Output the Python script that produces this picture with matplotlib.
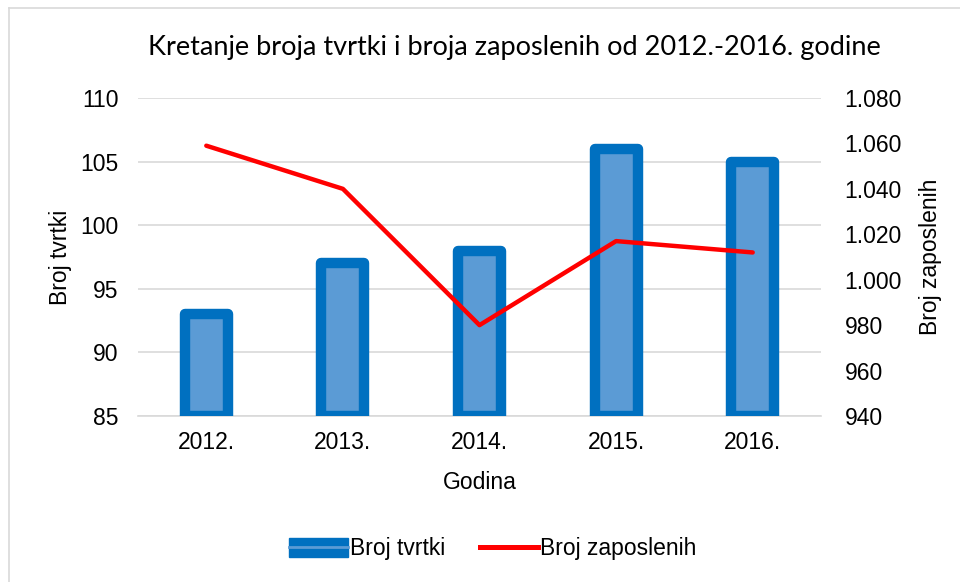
import matplotlib
matplotlib.use("Agg")
import matplotlib.pyplot as plt
from matplotlib.patches import Patch
from matplotlib.lines import Line2D
from matplotlib.ticker import FuncFormatter

years = ["2012.", "2013.", "2014.", "2015.", "2016."]
broj_tvrtki = [93, 97, 98, 106, 105]
broj_zaposlenih = [1059, 1040, 980, 1017, 1012]

plt.rcParams['font.family'] = ['Liberation Sans', 'DejaVu Sans']
FS = 16.5

W, H = 960, 582
fig = plt.figure(figsize=(W/100, H/100), dpi=100)
ax = fig.add_axes([138/W, 1-416/H, (821-138)/W, (416-98)/H])

x = list(range(len(years)))
ax.bar(x, [v - 85 for v in broj_tvrtki], bottom=85, width=0.315,
       color='#5B9BD5', edgecolor='#0070C0', linewidth=7.5, joinstyle='round', zorder=3)
ax.set_xlim(-0.5, 4.5)
ax.set_ylim(85, 110)
ax.set_yticks([85, 90, 95, 100, 105, 110])
ax.grid(axis='y', color='#D9D9D9', linewidth=1.2, zorder=0)
for s in ['top', 'right', 'left']:
    ax.spines[s].set_visible(False)
ax.spines['bottom'].set_color('#D9D9D9')
ax.spines['bottom'].set_linewidth(1.2)
ax.set_xticks(x)
ax.set_xticklabels(years)
ax.tick_params(axis='x', length=0, labelsize=FS, colors='#000000', pad=11)
ax.tick_params(axis='y', length=0, labelsize=FS, colors='#000000', pad=14)
ax.set_axisbelow(True)

ax2 = ax.twinx()
ax2.plot(x, broj_zaposlenih, color='#FF0000', linewidth=3.2, solid_capstyle='round', zorder=4)
ax2.set_ylim(940, 1080)
ax2.set_yticks([940, 960, 980, 1000, 1020, 1040, 1060, 1080])
ax2.yaxis.set_major_formatter(FuncFormatter(lambda v, p: f"{int(v):,}".replace(",", ".")))
for s in ['top', 'right', 'left', 'bottom']:
    ax2.spines[s].set_visible(False)
ax2.tick_params(axis='y', length=0, labelsize=FS, pad=17)

ax.set_xlabel("Godina", fontsize=FS, labelpad=12)
ax.set_ylabel("Broj tvrtki", fontsize=FS, labelpad=6)
ax2.set_ylabel("Broj zaposlenih", fontsize=FS, labelpad=12)

fig.text(514/W, 1-47/H, "Kretanje broja tvrtki i broja zaposlenih od 2012.-2016. godine",
         ha='center', va='center', fontsize=19.5, family=['Lato', 'DejaVu Sans'])

h1 = (Patch(facecolor='#0070C0', edgecolor='#0070C0', joinstyle='round'),
      Line2D([], [], color='#5B9BD5', linewidth=2))
h2 = Line2D([], [], color='#FF0000', linewidth=3.6)
fig.legend([h1, h2], ["Broj tvrtki", "Broj zaposlenih"], loc='center',
           bbox_to_anchor=(493/W, 1-549/H), ncol=2, frameon=False, fontsize=FS,
           handlelength=2.55, handleheight=0.85, handletextpad=0.1, columnspacing=1.5)

fig.add_artist(Line2D([9/W, 9/W], [0, 1-8/H], color='#D9D9D9', linewidth=1.2, transform=fig.transFigure))
fig.add_artist(Line2D([9/W, 1], [1-8/H, 1-8/H], color='#D9D9D9', linewidth=1.2, transform=fig.transFigure))

fig.savefig("out.png", dpi=100)
